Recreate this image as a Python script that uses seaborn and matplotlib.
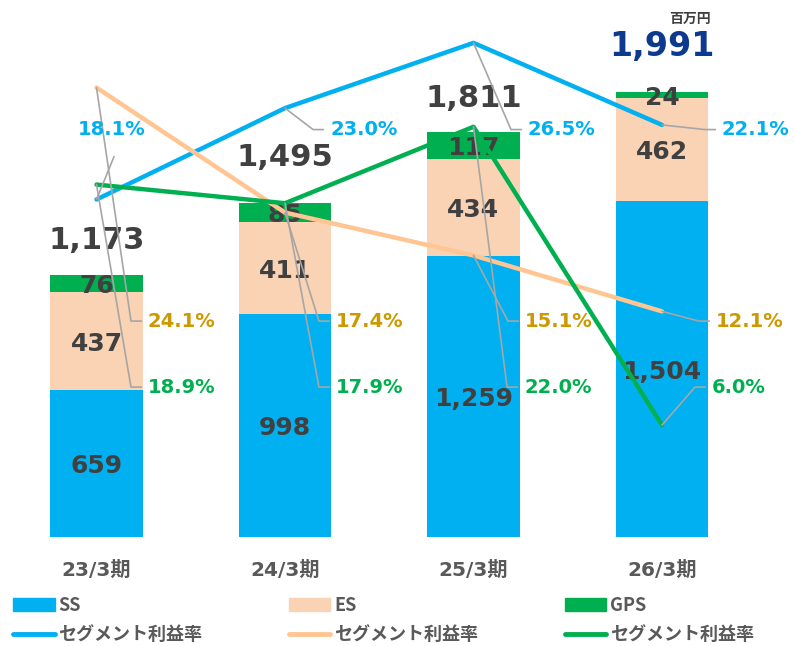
import matplotlib
matplotlib.use("Agg")
import matplotlib.pyplot as plt
from matplotlib.patches import Patch
from matplotlib.lines import Line2D
import pandas as pd
import seaborn as sns

# data (百万円, %)
periods = ["23/3期", "24/3期", "25/3期", "26/3期"]
ss = [659, 998, 1259, 1504]
es = [437, 411, 434, 462]
gps = [76, 85, 117, 24]
totals = [1173, 1495, 1811, 1991]
ss_margin = [18.1, 23.0, 26.5, 22.1]
es_margin = [24.1, 17.4, 15.1, 12.1]
gps_margin = [18.9, 17.9, 22.0, 6.0]

sns.set_style("white")
plt.rcParams["font.family"] = ["DejaVu Sans", "Noto Sans CJK JP"]

c_ss = "#00B0F0"
c_es = "#F9D3B4"
c_es_line = "#FFC593"
c_es_text = "#CC9900"
c_gps = "#00B050"
dark = "#404040"
gray = "#595959"
lead = "#A6A6A6"

df = pd.DataFrame({"period": periods, "SS": ss, "ES": es, "GPS": gps})
df["SS_ES"] = df["SS"] + df["ES"]
df["ALL"] = df["SS_ES"] + df["GPS"]

fig = plt.figure(figsize=(7.95, 6.46), dpi=100)
ax = fig.add_axes([2.25 / 795, 109 / 646, 754 / 795, 507 / 646])

# stacked bars: draw cumulative heights back to front
bar_kw = dict(width=0.49, saturation=1, errorbar=None, linewidth=0, ax=ax)
sns.barplot(data=df, x="period", y="ALL", color=c_gps, **bar_kw)
sns.barplot(data=df, x="period", y="SS_ES", color=c_es, **bar_kw)
sns.barplot(data=df, x="period", y="SS", color=c_ss, **bar_kw)

ax.set_xlim(-0.5, 3.5)
ax.set_ylim(0, 2268)
ax.set_xlabel("")
ax.set_ylabel("")
ax.set_yticks([])
sns.despine(ax=ax, left=True, bottom=True)
ax.tick_params(axis="x", length=0, pad=17, labelsize=14.5, labelcolor=gray)
for lbl in ax.get_xticklabels():
    lbl.set_fontweight("bold")

# segment values
for i in range(len(periods)):
    parts = [(0, ss[i]), (ss[i], es[i]), (ss[i] + es[i], gps[i])]
    for base, h in parts:
        ax.annotate(f"{h:,}", (i, base + h / 2), xytext=(0, -2), textcoords="offset points",
                    ha="center", va="center", fontsize=18, fontweight="bold", color=dark, zorder=4)

# totals
tot_off = [25, 33, 24.5, 33]
for i, t in enumerate(totals):
    last = i == len(totals) - 1
    ax.annotate(f"{t:,}", (i, df["ALL"][i]), xytext=(0, tot_off[i]), textcoords="offset points",
                ha="center", va="center", fontsize=24 if last else 22, fontweight="bold",
                color="#0D3A8F" if last else dark, zorder=4)

# margin lines
ax2 = ax.twinx()
xs = list(range(len(periods)))
for vals, col in [(ss_margin, c_ss), (es_margin, c_es_line), (gps_margin, c_gps)]:
    sns.lineplot(x=xs, y=vals, color=col, lw=3.2, solid_capstyle="round", ax=ax2, zorder=3)
ax2.set_ylim(0, 27.19)
ax2.set_yticks([])
ax2.set_ylabel("")
for s in ax2.spines.values():
    s.set_visible(False)

# margin labels with leader lines
ss_lab_x = [-0.098, 1.239, 2.289, 3.318]
es_lab_x = [0.273, 1.27, 2.273, 3.286]
gps_lab_x = [0.273, 1.27, 2.268, 3.265]
rows = [21.85, 11.58, 8.04]
series = [(ss_margin, ss_lab_x, rows[0], c_ss),
          (es_margin, es_lab_x, rows[1], c_es_text),
          (gps_margin, gps_lab_x, rows[2], c_gps)]
for vals, labx, row, col in series:
    for i, (v, lx) in enumerate(zip(vals, labx)):
        if lx < i:
            ax2.plot([i, i + 0.093], [v, row - 1.45], color=lead, lw=1.2, zorder=5)
        else:
            ax2.plot([i, lx - 0.09, lx - 0.035], [v, row, row], color=lead, lw=1.2, zorder=5)
        ax2.text(lx, row, f"{v:.1f}%", ha="left", va="center", fontsize=14,
                 fontweight="bold", color=col, zorder=6)

fig.text(690 / 795, 1 - 19 / 646, "百万円", ha="center", va="center", fontsize=10,
         fontweight="bold", color=dark, family=["Noto Sans CJK JP"])

handles = [Patch(color=c_ss), Line2D([], [], color=c_ss, lw=3.5, solid_capstyle="round"),
           Patch(color=c_es), Line2D([], [], color=c_es_line, lw=3.5, solid_capstyle="round"),
           Patch(color=c_gps), Line2D([], [], color=c_gps, lw=3.5, solid_capstyle="round")]
labels = ["SS", "セグメント利益率", "ES", "セグメント利益率", "GPS", "セグメント利益率"]
leg = fig.legend(handles, labels, ncol=3, loc="upper left", bbox_to_anchor=(4 / 795, 1 - 587 / 646),
                 frameon=False, handlelength=2.3, handleheight=0.7, handletextpad=0.2,
                 columnspacing=4.8, labelspacing=0.55, borderpad=0,
                 prop={"family": ["Noto Sans CJK JP"], "weight": "bold", "size": 13})
for t in leg.get_texts():
    t.set_color(gray)

fig.savefig("out.png", dpi=100)
